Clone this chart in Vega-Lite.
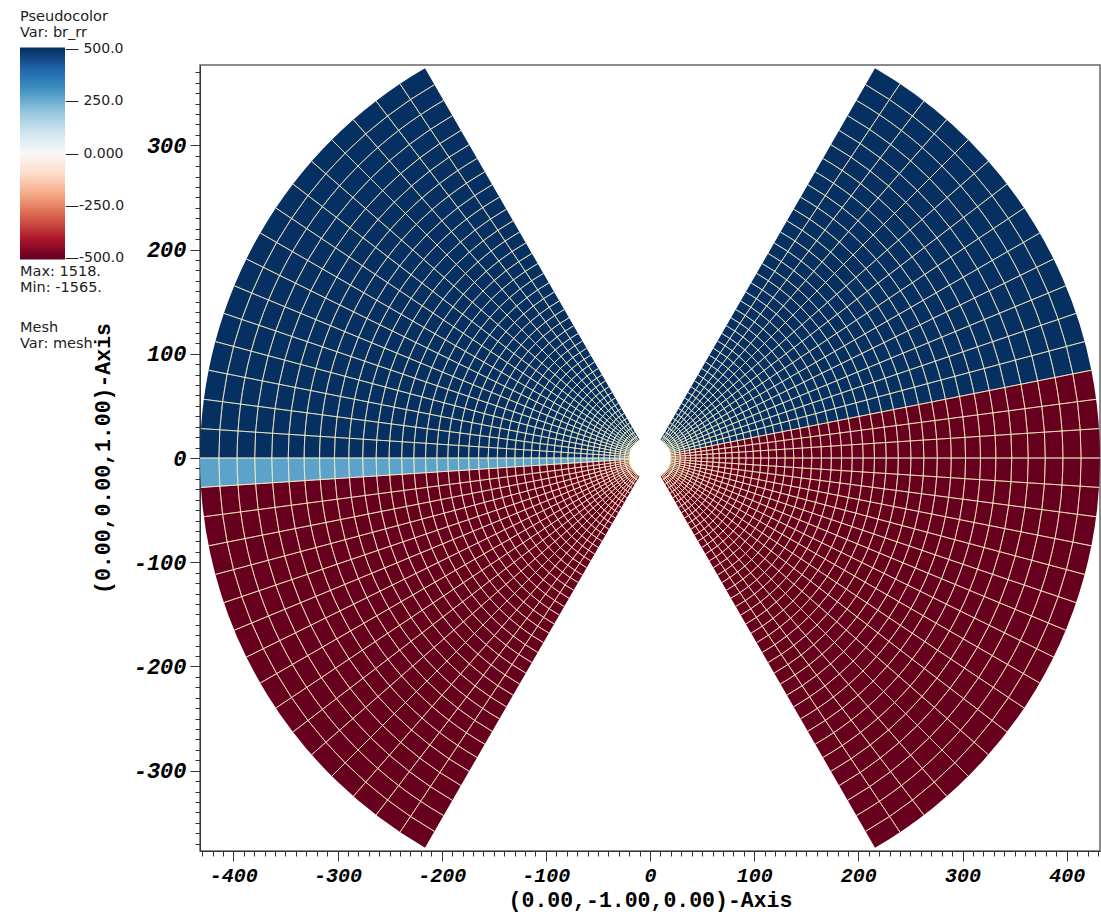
{
  "$schema": "https://vega.github.io/schema/vega-lite/v6.json",
  "width": 900,
  "height": 786,
  "autosize": {"type": "none"},
  "padding": {"left": 200, "top": 65, "right": 1, "bottom": 65},
  "background": "white",
  "config": {
    "view": {"stroke": "#666", "strokeWidth": 1.5},
    "axis": {
      "grid": false,
      "domainColor": "#333",
      "tickColor": "#333",
      "labelFont": "Liberation Mono",
      "labelFontWeight": "bold",
      "labelFontStyle": "italic",
      "labelColor": "#000",
      "labelOverlap": false,
      "labelFlush": false,
      "titleFont": "Liberation Mono",
      "titleFontSize": 21.5,
      "titleFontWeight": "bold",
      "titleColor": "#000"
    }
  },
  "datasets": {
    "regions": [
      {"a": 30, "b": 78.75, "r1": 20, "r2": 432, "v": 1000},
      {"a": 78.75, "b": 150, "r1": 20, "r2": 432, "v": -1000},
      {"a": 210, "b": 266.25, "r1": 20, "r2": 432, "v": -1000},
      {"a": 266.25, "b": 270, "r1": 20, "r2": 432, "v": 270},
      {"a": 270, "b": 330, "r1": 20, "r2": 432, "v": 1000}
    ],
    "rings": [
      {"a": 30, "b": 150, "r": 20}, {"a": 30, "b": 150, "r": 24.5}, {"a": 30, "b": 150, "r": 29.15}, {"a": 30, "b": 150, "r": 33.96},
      {"a": 30, "b": 150, "r": 38.94}, {"a": 30, "b": 150, "r": 44.09}, {"a": 30, "b": 150, "r": 49.42}, {"a": 30, "b": 150, "r": 54.93},
      {"a": 30, "b": 150, "r": 60.63}, {"a": 30, "b": 150, "r": 66.53}, {"a": 30, "b": 150, "r": 72.64}, {"a": 30, "b": 150, "r": 78.95},
      {"a": 30, "b": 150, "r": 85.48}, {"a": 30, "b": 150, "r": 92.24}, {"a": 30, "b": 150, "r": 99.23}, {"a": 30, "b": 150, "r": 106.47},
      {"a": 30, "b": 150, "r": 113.95}, {"a": 30, "b": 150, "r": 121.7}, {"a": 30, "b": 150, "r": 129.71}, {"a": 30, "b": 150, "r": 138},
      {"a": 30, "b": 150, "r": 146.58}, {"a": 30, "b": 150, "r": 155.45}, {"a": 30, "b": 150, "r": 164.63}, {"a": 30, "b": 150, "r": 174.13},
      {"a": 30, "b": 150, "r": 183.95}, {"a": 30, "b": 150, "r": 194.11}, {"a": 30, "b": 150, "r": 204.63}, {"a": 30, "b": 150, "r": 215.51},
      {"a": 30, "b": 150, "r": 226.76}, {"a": 30, "b": 150, "r": 238.41}, {"a": 30, "b": 150, "r": 250.45}, {"a": 30, "b": 150, "r": 262.92},
      {"a": 30, "b": 150, "r": 275.81}, {"a": 30, "b": 150, "r": 289.15}, {"a": 30, "b": 150, "r": 302.96}, {"a": 30, "b": 150, "r": 317.23},
      {"a": 30, "b": 150, "r": 332.01}, {"a": 30, "b": 150, "r": 347.29}, {"a": 30, "b": 150, "r": 363.1}, {"a": 30, "b": 150, "r": 379.46},
      {"a": 30, "b": 150, "r": 396.38}, {"a": 30, "b": 150, "r": 413.89},
      {"a": 210, "b": 330, "r": 20}, {"a": 210, "b": 330, "r": 24.5}, {"a": 210, "b": 330, "r": 29.15}, {"a": 210, "b": 330, "r": 33.96},
      {"a": 210, "b": 330, "r": 38.94}, {"a": 210, "b": 330, "r": 44.09}, {"a": 210, "b": 330, "r": 49.42}, {"a": 210, "b": 330, "r": 54.93},
      {"a": 210, "b": 330, "r": 60.63}, {"a": 210, "b": 330, "r": 66.53}, {"a": 210, "b": 330, "r": 72.64}, {"a": 210, "b": 330, "r": 78.95},
      {"a": 210, "b": 330, "r": 85.48}, {"a": 210, "b": 330, "r": 92.24}, {"a": 210, "b": 330, "r": 99.23}, {"a": 210, "b": 330, "r": 106.47},
      {"a": 210, "b": 330, "r": 113.95}, {"a": 210, "b": 330, "r": 121.7}, {"a": 210, "b": 330, "r": 129.71}, {"a": 210, "b": 330, "r": 138},
      {"a": 210, "b": 330, "r": 146.58}, {"a": 210, "b": 330, "r": 155.45}, {"a": 210, "b": 330, "r": 164.63}, {"a": 210, "b": 330, "r": 174.13},
      {"a": 210, "b": 330, "r": 183.95}, {"a": 210, "b": 330, "r": 194.11}, {"a": 210, "b": 330, "r": 204.63}, {"a": 210, "b": 330, "r": 215.51},
      {"a": 210, "b": 330, "r": 226.76}, {"a": 210, "b": 330, "r": 238.41}, {"a": 210, "b": 330, "r": 250.45}, {"a": 210, "b": 330, "r": 262.92},
      {"a": 210, "b": 330, "r": 275.81}, {"a": 210, "b": 330, "r": 289.15}, {"a": 210, "b": 330, "r": 302.96}, {"a": 210, "b": 330, "r": 317.23},
      {"a": 210, "b": 330, "r": 332.01}, {"a": 210, "b": 330, "r": 347.29}, {"a": 210, "b": 330, "r": 363.1}, {"a": 210, "b": 330, "r": 379.46},
      {"a": 210, "b": 330, "r": 396.38}, {"a": 210, "b": 330, "r": 413.89}
    ],
    "spokes": [
      {"t": 33.75, "r1": 20, "r2": 432}, {"t": 37.5, "r1": 20, "r2": 432}, {"t": 41.25, "r1": 20, "r2": 432}, {"t": 45, "r1": 20, "r2": 432},
      {"t": 48.75, "r1": 20, "r2": 432}, {"t": 52.5, "r1": 20, "r2": 432}, {"t": 56.25, "r1": 20, "r2": 432}, {"t": 60, "r1": 20, "r2": 432},
      {"t": 63.75, "r1": 20, "r2": 432}, {"t": 67.5, "r1": 20, "r2": 432}, {"t": 71.25, "r1": 20, "r2": 432}, {"t": 75, "r1": 20, "r2": 432},
      {"t": 78.75, "r1": 20, "r2": 432}, {"t": 82.5, "r1": 20, "r2": 432}, {"t": 86.25, "r1": 20, "r2": 432}, {"t": 90, "r1": 20, "r2": 432},
      {"t": 93.75, "r1": 20, "r2": 432}, {"t": 97.5, "r1": 20, "r2": 432}, {"t": 101.25, "r1": 20, "r2": 432}, {"t": 105, "r1": 20, "r2": 432},
      {"t": 108.75, "r1": 20, "r2": 432}, {"t": 112.5, "r1": 20, "r2": 432}, {"t": 116.25, "r1": 20, "r2": 432}, {"t": 120, "r1": 20, "r2": 432},
      {"t": 123.75, "r1": 20, "r2": 432}, {"t": 127.5, "r1": 20, "r2": 432}, {"t": 131.25, "r1": 20, "r2": 432}, {"t": 135, "r1": 20, "r2": 432},
      {"t": 138.75, "r1": 20, "r2": 432}, {"t": 142.5, "r1": 20, "r2": 432}, {"t": 146.25, "r1": 20, "r2": 432},
      {"t": 213.75, "r1": 20, "r2": 432}, {"t": 217.5, "r1": 20, "r2": 432}, {"t": 221.25, "r1": 20, "r2": 432}, {"t": 225, "r1": 20, "r2": 432},
      {"t": 228.75, "r1": 20, "r2": 432}, {"t": 232.5, "r1": 20, "r2": 432}, {"t": 236.25, "r1": 20, "r2": 432}, {"t": 240, "r1": 20, "r2": 432},
      {"t": 243.75, "r1": 20, "r2": 432}, {"t": 247.5, "r1": 20, "r2": 432}, {"t": 251.25, "r1": 20, "r2": 432}, {"t": 255, "r1": 20, "r2": 432},
      {"t": 258.75, "r1": 20, "r2": 432}, {"t": 262.5, "r1": 20, "r2": 432}, {"t": 266.25, "r1": 20, "r2": 432}, {"t": 270, "r1": 20, "r2": 432},
      {"t": 273.75, "r1": 20, "r2": 432}, {"t": 277.5, "r1": 20, "r2": 432}, {"t": 281.25, "r1": 20, "r2": 432}, {"t": 285, "r1": 20, "r2": 432},
      {"t": 288.75, "r1": 20, "r2": 432}, {"t": 292.5, "r1": 20, "r2": 432}, {"t": 296.25, "r1": 20, "r2": 432}, {"t": 300, "r1": 20, "r2": 432},
      {"t": 303.75, "r1": 20, "r2": 432}, {"t": 307.5, "r1": 20, "r2": 432}, {"t": 311.25, "r1": 20, "r2": 432}, {"t": 315, "r1": 20, "r2": 432},
      {"t": 318.75, "r1": 20, "r2": 432}, {"t": 322.5, "r1": 20, "r2": 432}, {"t": 326.25, "r1": 20, "r2": 432}
    ],
    "tips": [
      {"x": 216, "y": 374.1, "stat": "br_rr", "mesh": "mesh"},
      {"x": 216, "y": -374.1, "stat": "br_rr", "mesh": "mesh"},
      {"x": -216, "y": 374.1, "stat": "br_rr", "mesh": "mesh"},
      {"x": -216, "y": -374.1, "stat": "br_rr", "mesh": "mesh"}
    ]
  },
  "layer": [
    {
      "data": {"name": "regions"},
      "mark": {"type": "arc", "strokeWidth": 0},
      "encoding": {
        "theta": {"field": "a", "type": "quantitative", "stack": null, "scale": {"domain": [0, 360], "range": [0, 6.283185307]}},
        "theta2": {"field": "b"},
        "radius": {"field": "r2", "type": "quantitative", "scale": {"type": "linear", "domain": [0, 432], "range": [0, 450], "zero": true}},
        "radius2": {"field": "r1"},
        "color": {
          "field": "v",
          "type": "quantitative",
          "scale": {
            "domain": [-505, -500, -400, -300, -200, -100, 0, 100, 200, 300, 400, 500, 505],
            "range": ["#67001f", "#67001f", "#b2182b", "#d6604d", "#f4a582", "#fddbc7", "#f7f7f7", "#d1e5f0", "#92c5de", "#4393c3", "#2166ac", "#053061", "#053061"],
            "clamp": true
          },
          "legend": {
            "orient": "none",
            "legendX": -180,
            "legendY": -55,
            "direction": "vertical",
            "padding": 0,
            "title": ["Pseudocolor", "Var: br_rr"],
            "titleFont": "DejaVu Sans",
            "titleFontSize": 14.5,
            "titleFontWeight": "normal",
            "titleColor": "#222",
            "titleLineHeight": 16,
            "titlePadding": 7,
            "gradientLength": 212,
            "gradientThickness": 45,
            "gradientStrokeWidth": 0,
            "values": [-500, -250, 0, 250, 500],
            "labelExpr": "datum.value > 400 ? '\u2014 500.0' : datum.value > 200 ? '\u2014 250.0' : datum.value > -100 ? '\u2014 0.000' : datum.value > -300 ? '\u2014-250.0' : '\u2014-500.0'",
            "labelFont": "DejaVu Sans",
            "labelFontSize": 14,
            "labelColor": "#222",
            "labelOffset": 0,
            "labelBaseline": "middle",
            "labelOverlap": false
          }
        }
      }
    },
    {
      "data": {"name": "rings"},
      "mark": {"type": "arc", "fill": null, "fillOpacity": 0, "stroke": "#f6ecc0", "strokeWidth": 1, "strokeOpacity": 0.7},
      "encoding": {
        "theta": {"field": "a", "type": "quantitative", "stack": null, "scale": {"domain": [0, 360], "range": [0, 6.283185307]}},
        "theta2": {"field": "b"},
        "radius": {"field": "r", "type": "quantitative", "scale": {"type": "linear", "domain": [0, 432], "range": [0, 450], "zero": true}},
        "radius2": {"field": "r"}
      }
    },
    {
      "data": {"name": "spokes"},
      "mark": {"type": "arc", "fill": null, "fillOpacity": 0, "stroke": "#f6ecc0", "strokeWidth": 1, "strokeOpacity": 0.7},
      "encoding": {
        "theta": {"field": "t", "type": "quantitative", "stack": null, "scale": {"domain": [0, 360], "range": [0, 6.283185307]}},
        "theta2": {"field": "t"},
        "radius": {"field": "r2", "type": "quantitative", "scale": {"type": "linear", "domain": [0, 432], "range": [0, 450], "zero": true}},
        "radius2": {"field": "r1"}
      }
    },
    {
      "data": {"name": "tips"},
      "mark": {"type": "point", "opacity": 0},
      "encoding": {
        "x": {
          "field": "x",
          "type": "quantitative",
          "scale": {"domain": [-432, 432], "nice": false, "zero": false},
          "axis": {
            "values": [-430,-420,-410,-400,-390,-380,-370,-360,-350,-340,-330,-320,-310,-300,-290,-280,-270,-260,-250,-240,-230,-220,-210,-200,-190,-180,-170,-160,-150,-140,-130,-120,-110,-100,-90,-80,-70,-60,-50,-40,-30,-20,-10,0,10,20,30,40,50,60,70,80,90,100,110,120,130,140,150,160,170,180,190,200,210,220,230,240,250,260,270,280,290,300,310,320,330,340,350,360,370,380,390,400,410,420,430],
            "tickSize": {"condition": {"test": "datum.value % 100 === 0", "value": 10}, "value": 5},
            "labelExpr": "datum.value % 100 === 0 ? '' + datum.value : ''",
            "labelFontSize": 20,
            "labelPadding": 4,
            "title": "(0.00,-1.00,0.00)-Axis",
            "titlePadding": 4
          }
        },
        "y": {
          "field": "y",
          "type": "quantitative",
          "scale": {"domain": [-377, 377], "nice": false, "zero": false},
          "axis": {
            "values": [-370,-360,-350,-340,-330,-320,-310,-300,-290,-280,-270,-260,-250,-240,-230,-220,-210,-200,-190,-180,-170,-160,-150,-140,-130,-120,-110,-100,-90,-80,-70,-60,-50,-40,-30,-20,-10,0,10,20,30,40,50,60,70,80,90,100,110,120,130,140,150,160,170,180,190,200,210,220,230,240,250,260,270,280,290,300,310,320,330,340,350,360,370],
            "tickSize": {"condition": {"test": "datum.value % 100 === 0", "value": 10}, "value": 5},
            "labelExpr": "datum.value % 100 === 0 ? '' + datum.value : ''",
            "labelFontSize": 22,
            "labelPadding": 4,
            "title": "(0.00,0.00,1.00)-Axis",
            "titlePadding": 19
          }
        },
        "shape": {
          "field": "stat",
          "type": "nominal",
          "legend": {
            "orient": "none",
            "legendX": -180,
            "legendY": 200,
            "padding": 0,
            "title": ["Max: 1518.", "Min: -1565."],
            "titleFont": "DejaVu Sans",
            "titleFontSize": 14.5,
            "titleFontWeight": "normal",
            "titleColor": "#222",
            "titleLineHeight": 16,
            "labelExpr": "''",
            "symbolOpacity": 0,
            "symbolStrokeWidth": 0
          }
        },
        "size": {
          "field": "mesh",
          "type": "ordinal",
          "legend": {
            "orient": "none",
            "legendX": -180,
            "legendY": 256,
            "padding": 0,
            "title": ["Mesh", "Var: mesh"],
            "titleFont": "DejaVu Sans",
            "titleFontSize": 14.5,
            "titleFontWeight": "normal",
            "titleColor": "#222",
            "titleLineHeight": 16,
            "labelExpr": "''",
            "symbolOpacity": 0,
            "symbolStrokeWidth": 0
          }
        }
      }
    }
  ]
}
